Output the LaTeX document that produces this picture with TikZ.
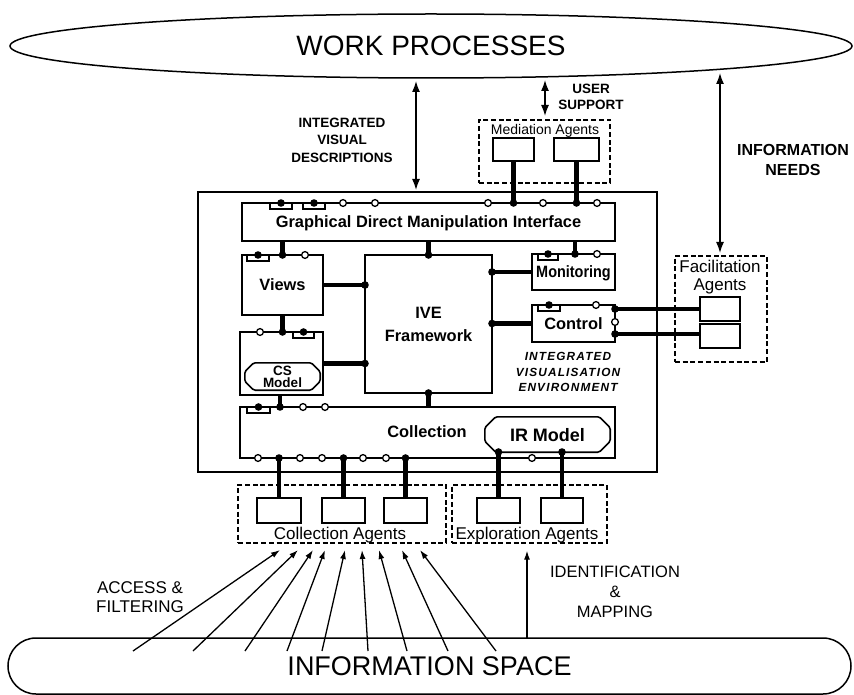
\documentclass[tikz,border=0pt]{standalone}
\usepackage{fontspec}
\setmainfont{Liberation Sans}
\newfontfamily\condfont[FakeStretch=0.88]{Liberation Sans}
\newfontfamily\trackfont[LetterSpace=10]{Liberation Sans}
\usetikzlibrary{shapes.geometric,arrows.meta}
\newcommand\mkbox[7]{%
  \pgfmathsetmacro\mbw{#4-#2}%
  \pgfmathsetmacro\mbh{#5-#3}%
  \pgfmathsetmacro\mbx{(#2+#4)/2}%
  \pgfmathsetmacro\mby{(#3+#5)/2}%
  \node[#6, minimum width=\mbw pt, minimum height=\mbh pt] (#1) at (\mbx,\mby) {#7};}
\newcommand\pdot[2]{\fill (#1,#2) circle[radius=3.8pt];}
\newcommand\pcir[2]{\draw[line width=1.3pt,fill=white] (#1,#2) circle[radius=3.4pt];}
\newcommand\ptab[3]{\draw[line width=1.3pt] (#1,#3) rectangle (#2,#3+6); \fill ({(#1+#2)/2},#3) circle[radius=3.8pt];}
\newcommand\chamf[2]{\draw[line width=1.6pt, rounded corners=1.5pt] ([xshift=#2]#1.north west) -- ([xshift=-#2]#1.north east) -- ([yshift=-#2]#1.north east) -- ([yshift=#2]#1.south east) -- ([xshift=-#2]#1.south east) -- ([xshift=#2]#1.south west) -- ([yshift=#2]#1.south west) -- ([yshift=-#2]#1.north west) -- cycle;}
\newcommand\szBig{\fontsize{28}{30}\selectfont}
\newcommand\szBx{\fontsize{16.4}{23}\selectfont\bfseries}
\newcommand\szAg{\fontsize{17}{18}\selectfont}
\newcommand\szLab{\fontsize{13.5}{17.5}\selectfont\bfseries}
\begin{document}
\begin{tikzpicture}[x=1pt,y=-1pt,
  every node/.style={inner sep=0pt, text depth=0pt},
  bx/.style={draw, line width=1.6pt, fill=white},
  agbox/.style={draw, line width=2.1pt, fill=white},
  dbox/.style={draw, line width=1.3pt, dash pattern=on 5pt off 2.7pt},
  conn/.style={line width=4.8pt},
  dbl/.style={line width=1.5pt, {Latex[length=11pt,width=8pt]}-{Latex[length=11pt,width=8pt]}},
  upar/.style={line width=1.3pt, -{Latex[length=9pt,width=6pt]}},
  lab/.style={align=center, font=\szLab},
]
\useasboundingbox (0,0) rectangle (854,695);

% outer shapes
\node[draw, ellipse, line width=1.5pt, minimum width=842pt, minimum height=64pt, font=\szBig] (work) at (431,46) {WORK PROCESSES};
\node[draw, rounded corners=28pt, line width=1.5pt, minimum width=843pt, minimum height=56pt, font=\fontsize{27}{30}\selectfont] (info) at (429.5,666) {INFORMATION SPACE};

% IVE environment
\mkbox{env}{198}{192}{657}{472}{draw,line width=1.6pt}{}
\mkbox{gdmi}{242}{203}{615}{241}{bx,font=\szBx}{Graphical Direct Manipulation Interface}
\mkbox{views}{242}{255}{323}{315}{bx,font=\szBx}{Views}
\mkbox{ive}{365}{255}{492}{393}{bx,font=\szBx,align=center}{IVE\\Framework}
\mkbox{mon}{532}{254}{615}{290}{bx,font=\szBx\condfont}{Monitoring}
\mkbox{ctrl}{532}{305}{615}{342}{bx,font=\szBx}{Control}
\mkbox{cs}{240}{332}{323}{395}{bx}{}
\mkbox{csm}{245}{363}{320}{390}{align=center,font=\fontsize{13.5}{12}\selectfont\bfseries}{CS\\Model}
\chamf{csm}{9pt}
\mkbox{coll}{240}{407}{615}{458}{bx,font=\szBx}{}
\node[font=\szBx] (colllab) at (427,432) {Collection};
\mkbox{irm}{485}{417}{610}{452}{font=\fontsize{18}{20}\selectfont\bfseries}{IR Model}
\chamf{irm}{11pt}
\node[align=center, font=\fontsize{11.8}{15.5}\selectfont\bfseries\itshape\trackfont] (ivelab) at (568,372) {INTEGRATED\\VISUALISATION\\ENVIRONMENT};

% agents
\mkbox{med}{479}{120}{610}{183}{dbox}{}
\node[font=\fontsize{14}{16}\selectfont] (medlab) at (545,129) {Mediation Agents};
\mkbox{m1}{493}{138}{534}{161}{agbox}{}
\mkbox{m2}{554}{138}{599}{161}{agbox}{}

\mkbox{fac}{675}{256}{767}{362}{dbox}{}
\node[align=center, font=\szAg] (faclab) at (720,275) {Facilitation\\Agents};
\mkbox{f1}{700}{297}{740}{321}{agbox}{}
\mkbox{f2}{700}{324}{740}{348}{agbox}{}

\mkbox{cag}{238}{485}{446}{543}{dbox}{}
\node[font=\szAg] (caglab) at (340,533) {Collection Agents};
\mkbox{c1}{257}{498}{301}{523}{agbox}{}
\mkbox{c2}{322}{498}{365}{523}{agbox}{}
\mkbox{c3}{384}{498}{427}{523}{agbox}{}

\mkbox{eag}{452}{485}{607}{543}{dbox}{}
\node[font=\szAg] (eaglab) at (527,533) {Exploration Agents};
\mkbox{e1}{477}{498}{520}{523}{agbox}{}
\mkbox{e2}{541}{498}{583}{523}{agbox}{}

% labels
\node[lab] (ivd) at (342,140) {INTEGRATED\\VISUAL\\DESCRIPTIONS};
\node[lab, font=\fontsize{13.5}{16}\selectfont\bfseries] (us) at (591,97) {USER\\SUPPORT};
\node[lab, font=\fontsize{16}{20}\selectfont\bfseries] (inl) at (793,160) {INFORMATION\\NEEDS};
\node[align=center, font=\fontsize{17}{19}\selectfont] (acc) at (140,597) {ACCESS \&\\FILTERING};
\node[align=center, font=\fontsize{16.5}{20}\selectfont] (idm) at (615,592) {IDENTIFICATION\\\&\\MAPPING};

% big arrows
\coordinate (ivdT) at (416,81);
\coordinate (ivdB) at (416,190);
\draw[dbl] (ivdT) -- (ivdB);
\coordinate (usT) at (545,80);
\coordinate (usB) at (545,116);
\draw[dbl] (usT) -- (usB);
\coordinate (inT) at (720,73);
\coordinate (inB) at (720,253);
\draw[dbl] (inT) -- (inB);

% connectors
\draw[conn] (m1.south) -- (m1.south |- gdmi.north);
\draw[conn] (m2.south) -- (m2.south |- gdmi.north);
\draw[conn] (views.north) -- (views.north |- gdmi.south);
\draw[conn] (ive.north) -- (ive.north |- gdmi.south);
\draw[conn] ([xshift=1.5pt]mon.north) -- ([xshift=1.5pt]mon.north |- gdmi.south);
\draw[conn] (views.east) -- (views.east -| ive.west);
\draw[conn] (cs.east) -- (cs.east -| ive.west);
\draw[conn] (mon.west) -- (mon.west -| ive.east);
\draw[conn] (ctrl.west) -- (ctrl.west -| ive.east);
\draw[conn] (views.south) -- (views.south |- cs.north);
\draw[conn] ([xshift=-1.5pt]cs.south) -- ([xshift=-1.5pt]cs.south |- coll.north);
\draw[conn] (ive.south) -- (ive.south |- coll.north);
\draw[conn] (c1.north) -- (c1.north |- coll.south);
\draw[conn] (c2.north) -- (c2.north |- coll.south);
\draw[conn] (c3.north) -- (c3.north |- coll.south);
\draw[conn] (e1.north) -- (e1.north |- irm.south);
\draw[conn] (e2.north) -- (e2.north |- irm.south);
\draw[conn] (f1.west) -- (f1.west -| ctrl.east);
\draw[conn] ([yshift=2pt]f2.west) -- ([yshift=2pt]f2.west -| ctrl.east);

% ports: GDMI
\ptab{270}{292}{203} \ptab{303}{325}{203}
\pcir{343}{203} \pcir{375}{203} \pcir{488}{203} \pcir{543}{203} \pcir{597}{203}
\pdot{513.5}{203} \pdot{576.5}{203}
% Views
\ptab{247}{269}{255} \pdot{282.5}{255} \pcir{305}{255}
% IVE
\pdot{428.5}{255} \pdot{365}{285} \pdot{365}{363.5} \pdot{492}{272} \pdot{492}{323.5} \pdot{428.5}{393}
% Monitoring
\ptab{538}{558}{254} \pdot{575}{254} \pcir{597}{254}
% Control
\ptab{538}{560}{305} \pcir{596}{305}
\pdot{615}{309} \pcir{615}{322} \pdot{615}{334}
% CS
\pcir{260}{332} \pdot{282.5}{332} \ptab{293}{314}{332}
% Collection top
\ptab{247}{270}{407} \pdot{280}{407} \pcir{303}{407} \pcir{325}{407}
% Collection bottom
\pcir{258}{458} \pdot{279}{458} \pcir{300}{458} \pcir{322}{458} \pdot{343.5}{458}
\pcir{363}{458} \pcir{386}{458} \pdot{405.5}{458} \pcir{532}{458}
\pdot{498.5}{452} \pdot{562}{452}

% information space arrows
\foreach \i/\sx/\tx in {1/133/280, 2/193/298, 3/245/313, 4/287/325, 5/322/345, 6/368/362, 7/407/379, 8/448/402, 9/496/420} {
  \coordinate (s\i) at (\sx,651);
  \coordinate (t\i) at (\tx,550);
  \draw[upar] (s\i) -- (t\i);
}
\coordinate (idS) at (527,638);
\draw[upar, shorten >=7pt] (idS) -- (idS |- eag.south);
\end{tikzpicture}
\end{document}
